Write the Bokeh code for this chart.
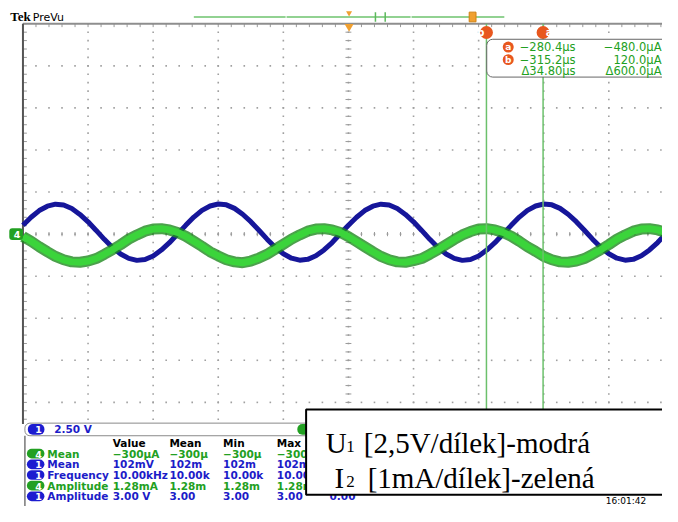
from bokeh.plotting import figure
from bokeh.models import Range1d
from bokeh.core.properties import value
from bokeh.embed import file_html
from bokeh.resources import INLINE

# ---------------- data ----------------
time_us = list(range(-600, -195, 5))          # sample times, 5 us apart
ch1_volts = [0.53, 1.00, 1.40, 1.66, 1.78, 1.73, 1.52, 1.17, 0.73, 0.22,
             -0.31, -0.79, -1.18, -1.44, -1.56, -1.51, -1.30, -0.95, -0.51, 0.01,
             0.52, 1.01, 1.41, 1.67, 1.79, 1.74, 1.53, 1.18, 0.74, 0.23,
             -0.30, -0.78, -1.17, -1.43, -1.55, -1.50, -1.29, -0.94, -0.50, 0.02,
             0.53, 1.00, 1.40, 1.66, 1.78, 1.73, 1.52, 1.17, 0.73, 0.22,
             -0.31, -0.79, -1.18, -1.44, -1.56, -1.51, -1.30, -0.95, -0.51, 0.01,
             0.52, 1.01, 1.41, 1.67, 1.79, 1.74, 1.53, 1.18, 0.74, 0.23,
             -0.30, -0.78, -1.17, -1.43, -1.55, -1.50, -1.29, -0.94, -0.50, 0.02,
             0.53]
ch4_milliamps = [-0.06, -0.17, -0.30, -0.42, -0.53, -0.61, -0.66, -0.67, -0.64, -0.58,
                 -0.48, -0.37, -0.25, -0.12, -0.02, 0.07, 0.12, 0.13, 0.10, 0.04,
                 -0.05, -0.17, -0.29, -0.42, -0.52, -0.61, -0.66, -0.68, -0.64, -0.57,
                 -0.48, -0.36, -0.24, -0.12, -0.02, 0.07, 0.12, 0.13, 0.10, 0.04,
                 -0.06, -0.18, -0.30, -0.42, -0.53, -0.61, -0.66, -0.67, -0.63, -0.58,
                 -0.48, -0.37, -0.25, -0.13, -0.02, 0.06, 0.12, 0.13, 0.10, 0.04,
                 -0.05, -0.17, -0.30, -0.41, -0.53, -0.61, -0.66, -0.67, -0.64, -0.58,
                 -0.48, -0.37, -0.25, -0.12, -0.02, 0.07, 0.12, 0.13, 0.10, 0.04,
                 -0.06]

US_PER_DIV = 40.0
VOLTS_PER_DIV = 2.5
MA_PER_DIV = 1.0
T_LEFT = -600.0

cursor_a_us = -280.4
cursor_b_us = -315.2
cursor_names = ["a", "b", ""]
cursor_times = ["−280.4µs", "−315.2µs", "Δ34.80µs"]
cursor_currents = ["−480.0µA", "120.0µA", "Δ600.0µA"]

ch1_scale_text = "2.50 V"
meas_headers = ["Value", "Mean", "Min", "Max", "Std Dev"]
meas_channels = ["4", "1", "1", "4", "1"]
meas_names = ["Mean", "Mean", "Frequency", "Amplitude", "Amplitude"]
meas_value = ["−300µA", "102mV", "10.00kHz", "1.28mA", "3.00 V"]
meas_mean = ["−300µ", "102m", "10.00k", "1.28m", "3.00"]
meas_min = ["−300µ", "102m", "10.00k", "1.28m", "3.00"]
meas_max = ["−300µ", "102m", "10.00k", "1.28m", "3.00"]
meas_std = ["0.00", "0.00", "0.00", "0.00", "0.00"]
timestamp = "16:01:42"

legend_line1 = ("U", "1", "[2,5V/dílek]-modrá")
legend_line2 = ("I", "2", "[1mA/dílek]-zelená")

# ---------------- layout helpers (screen position -> data) ----------------
PX_DIV_X = 66.67
PX_DIV_Y = 43.4
X_LEFT_PX = 23.0
Y_CENTER_PX = 241.0


def X(px):
    return T_LEFT + (px - X_LEFT_PX) * US_PER_DIV / PX_DIV_X


def Y(py):
    return (Y_CENTER_PX - py) / PX_DIV_Y


p = figure(width=662, height=506, output_backend="svg", toolbar_location=None,
           x_range=Range1d(X(0), X(678)), y_range=Range1d(Y(522), Y(0)),
           x_axis_location=None, y_axis_location=None, min_border=0)
p.xgrid.visible = False
p.ygrid.visible = False
p.outline_line_color = None
p.background_fill_color = "white"
p.extra_y_ranges = {
    "volts": Range1d(Y(522) * VOLTS_PER_DIV, Y(0) * VOLTS_PER_DIV),
    "ma": Range1d(Y(522) * MA_PER_DIV, Y(0) * MA_PER_DIV),
}

GREEN_TXT = "#22a022"
BLUE_TXT = "#1c1cc8"
ORANGE = "#e8571e"
UI_FONT = "DejaVu Sans"


def txt(px, py, s, color="#000000", size=10.5, font=UI_FONT, style="bold",
        align="left", baseline="middle"):
    p.text(x=[X(px)], y=[Y(py)], text=[s], text_color=color,
           text_font_size=f"{size}px", text_font=value(font),
           text_font_style=style, text_align=align, text_baseline=baseline)


def pill(px0, px1, py0, py1, color, label, radius=5):
    p.quad(left=[X(px0)], right=[X(px1)], top=[Y(py0)], bottom=[Y(py1)],
           fill_color=color, line_color=None, border_radius=radius)
    txt(px1 - 6, (py0 + py1) / 2 + 0.5, label, color="white", size=9.5,
        align="center")


# ---------------- graticule ----------------
n_minor_x = 5
n_minor_y = 5
dots_x, dots_y = [], []
y_bottom_div = Y(436)
for d in range(-4, 5):
    k = 0
    while T_LEFT + k * US_PER_DIV / n_minor_x <= X(678):
        dots_x.append(T_LEFT + k * US_PER_DIV / n_minor_x)
        dots_y.append(d)
        k += 1
for j in range(1, 10):
    tx = T_LEFT + j * US_PER_DIV
    k = 0
    while 5 - k / n_minor_y >= y_bottom_div:
        dots_x.append(tx)
        dots_y.append(5 - k / n_minor_y)
        k += 1
p.scatter(dots_x, dots_y, marker="square", size=1.6, fill_color="#a0a0a0",
          line_color=None)

# minor ticks on centre lines and borders
tk = []
k = 0
while T_LEFT + k * US_PER_DIV / n_minor_x <= X(678):
    tx = T_LEFT + k * US_PER_DIV / n_minor_x
    tk.append((tx, -0.05, tx, 0.05))        # centre horizontal
    tk.append((tx, 5, tx, 5 - 0.08))        # top border
    k += 1
k = 0
while 5 - k / n_minor_y >= y_bottom_div:
    ty = 5 - k / n_minor_y
    tk.append((T_LEFT + 5 * US_PER_DIV - 1.8, ty, T_LEFT + 5 * US_PER_DIV + 1.8, ty))
    tk.append((T_LEFT, ty, T_LEFT + 2.4, ty))
    k += 1
p.segment(x0=[a[0] for a in tk], y0=[a[1] for a in tk], x1=[a[2] for a in tk],
          y1=[a[3] for a in tk], line_color="#9a9a9a", line_width=1)

p.segment(x0=[T_LEFT], y0=[5], x1=[X(680)], y1=[5], line_color="#8e8e8e", line_width=2)
p.segment(x0=[T_LEFT], y0=[5], x1=[T_LEFT], y1=[Y(437)], line_color="#555555", line_width=2)

# ---------------- header ----------------
txt(10, 17, "Tek", size=13, font="Liberation Serif", style="bold")
txt(33, 17.5, "PreVu", size=11, style="normal")
p.segment(x0=[X(198)], y0=[Y(17)], x1=[X(516)], y1=[Y(17)], line_color="#92d292", line_width=2)
p.segment(x0=[X(292), X(420)], y0=[Y(17), Y(17)], x1=[X(293), X(421)], y1=[Y(17), Y(17)],
          line_color="white", line_width=3)
p.segment(x0=[X(384), X(394)], y0=[Y(12), Y(12)], x1=[X(384), X(394)], y1=[Y(22), Y(22)],
          line_color="#5cb85c", line_width=1.5)
p.quad(left=[X(480)], right=[X(487)], top=[Y(12)], bottom=[Y(22)],
       fill_color="#f0a030", line_color="#d08010")
p.scatter([X(357)], [Y(13)], marker="inverted_triangle", size=6, fill_color="#f0a030", line_color=None)
p.scatter([X(357)], [Y(27)], marker="inverted_triangle", size=9, fill_color="#f0a030", line_color=None)

# ---------------- traces ----------------
p.line(time_us, ch1_volts, y_range_name="volts", line_color="#16169a", line_width=5)
p.line(time_us, ch4_milliamps, y_range_name="ma", line_color="#1f8a1f", line_width=11, line_alpha=0.8)
p.line(time_us, ch4_milliamps, y_range_name="ma", line_color="#3bd43b", line_width=7)

# ground marker of channel 4
pill(9, 23, 235, 247, "#22a022", "4", radius=3)

# ---------------- cursors ----------------
p.segment(x0=[cursor_a_us, cursor_b_us], y0=[5, 5], x1=[cursor_a_us, cursor_b_us],
          y1=[Y(425), Y(425)], line_color="#6cc06c", line_width=1.5)
p.scatter([cursor_b_us, cursor_a_us], [Y(33), Y(33)], marker="circle", size=13,
          fill_color=ORANGE, line_color=None)
txt(497 - 5, 33, "b", color="white", size=10, align="center")
txt(556 + 6, 33, "a", color="white", size=10, align="center")

p.quad(left=[X(498)], right=[X(700)], top=[Y(40)], bottom=[Y(79)],
       fill_color="white", line_color="#666666", line_width=1, border_radius=6)
row_y = [48, 61, 73]
for name, ts, cs, ry in zip(cursor_names, cursor_times, cursor_currents, row_y):
    if name:
        p.scatter([X(520)], [Y(ry)], marker="circle", size=11, fill_color=ORANGE, line_color=None)
        txt(520, ry, name, color="white", size=9, align="center")
    txt(589, ry, ts, color=GREEN_TXT, size=11.5, style="normal", align="right")
    txt(677, ry, cs, color=GREEN_TXT, size=11.5, style="normal", align="right")

# ---------------- measurement panel ----------------
p.quad(left=[X(25)], right=[X(345)], top=[Y(436)], bottom=[Y(449)],
       fill_color="white", line_color="#8a8a8a", line_width=1, border_radius=5)
pill(28, 45, 437, 448, "#1c1cd0", "1")
txt(55, 442.5, ch1_scale_text, color=BLUE_TXT, size=10.5)
pill(304, 322, 437, 448, "#22a022", "4")
p.segment(x0=[X(25)], y0=[Y(449)], x1=[X(25)], y1=[Y(530)], line_color="#777777", line_width=1.5)

col_x = [115, 173, 228, 283, 337]
for hx, h in zip(col_x, meas_headers):
    txt(hx, 456, h, size=10.5)
rows_y = [467.5, 478.5, 489.5, 500.5, 511.5]
for ch, nm, v, mn, mi, mx, sd, ry in zip(meas_channels, meas_names, meas_value, meas_mean,
                                         meas_min, meas_max, meas_std, rows_y):
    col = GREEN_TXT if ch == "4" else BLUE_TXT
    pill(27, 45, ry - 5, ry + 5, "#22a022" if ch == "4" else "#1c1cd0", ch)
    txt(48, ry, nm, color=col, size=10.5)
    for cx, s in zip(col_x, [v, mn, mi, mx, sd]):
        txt(cx, ry, s, color=col, size=10.5)

# ---------------- legend box ----------------
p.quad(left=[X(313)], right=[X(700)], top=[Y(422)], bottom=[Y(510)],
       fill_color="white", line_color="black", line_width=2)
txt(620, 516, timestamp, size=9, style="normal")
SERIF = "Liberation Serif"
txt(333, 457, legend_line1[0], size=29, font=SERIF, style="normal", baseline="alphabetic")
txt(354, 460, legend_line1[1], size=17, font=SERIF, style="normal", baseline="alphabetic")
txt(372, 457, legend_line1[2], size=29, font=SERIF, style="normal", baseline="alphabetic")
txt(342, 493, legend_line2[0], size=29, font=SERIF, style="normal", baseline="alphabetic")
txt(354, 496, legend_line2[1], size=17, font=SERIF, style="normal", baseline="alphabetic")
txt(376, 493, legend_line2[2], size=29, font=SERIF, style="normal", baseline="alphabetic")

open("out.html", "w").write(file_html(p, INLINE))
